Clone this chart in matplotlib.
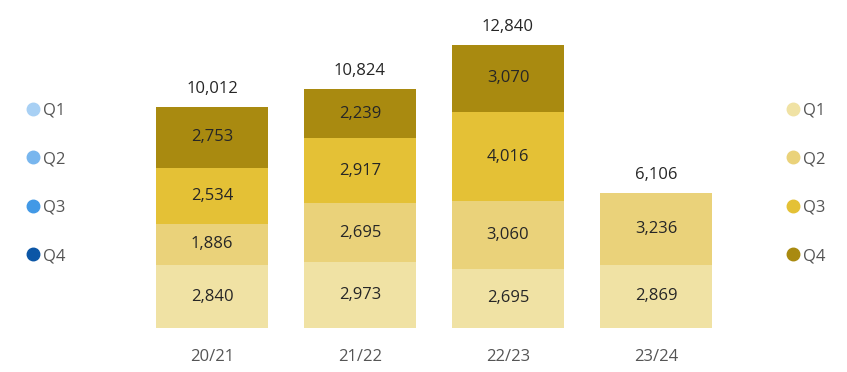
import numpy as np
import matplotlib
matplotlib.use("Agg")
import matplotlib.pyplot as plt
from matplotlib.lines import Line2D

plt.rcParams.update({
    "font.family": ["Open Sans", "DejaVu Sans"],
    "font.size": 12,
    "figure.facecolor": "white",
})

seasons = ["20/21", "21/22", "22/23", "23/24"]
q1 = [2840, 2973, 2695, 2869]
q2 = [1886, 2695, 3060, 3236]
q3 = [2534, 2917, 4016, 0]
q4 = [2753, 2239, 3070, 0]
totals = [10012, 10824, 12840, 6106]
quarters = ["Q1", "Q2", "Q3", "Q4"]

GOLD = ["#f0e2a4", "#ead27a", "#e4c136", "#a98a10"]
BLUE = ["#a8d0f4", "#78b6ee", "#4299e6", "#0c56a6"]
TXT = "#262626"

fig = plt.figure(figsize=(8.47, 3.72), dpi=100)
ax = fig.add_axes([0, 0, 1, 1])

x = np.arange(len(seasons))
bottom = np.zeros(len(seasons))
for vals, col in zip((q1, q2, q3, q4), GOLD):
    vals = np.array(vals, dtype=float)
    ax.bar(x, vals, 0.76, bottom=bottom, color=col, lw=0)
    for xi, b, v in zip(x, bottom, vals):
        if v > 0:
            ax.text(xi, b + v / 2, f"{int(v):,}", ha="center", va="center",
                    color=TXT, fontsize=12)
    bottom += vals

for xi, t in zip(x, totals):
    ax.text(xi, t + 450, f"{t:,}", ha="center", va="bottom", color=TXT, fontsize=12)
for xi, s in zip(x, seasons):
    ax.text(xi, -950, s, ha="center", va="top", color="#555555", fontsize=12)

# map category/value units onto the canvas
ax.set_xlim(-212 / 148, (847 - 212) / 148)
px = 221 / 10012
ax.set_ylim(-44 / px, 328 / px)
ax.axis("off")

def quarter_legend(colors, anchor):
    handles = [Line2D([], [], marker="o", ls="", ms=9, mfc=c, mec=c) for c in colors]
    return ax.legend(handles, quarters, loc="upper left", bbox_to_anchor=anchor,
                     frameon=False, labelspacing=1.95, handletextpad=0.1,
                     handlelength=1.0, borderaxespad=0, labelcolor="#555555",
                     fontsize=12)

leg = quarter_legend(BLUE, (18 / 847, 1 - 96 / 372))
ax.add_artist(leg)
quarter_legend(GOLD, (778 / 847, 1 - 96 / 372))

fig.savefig("out.png", dpi=100)
